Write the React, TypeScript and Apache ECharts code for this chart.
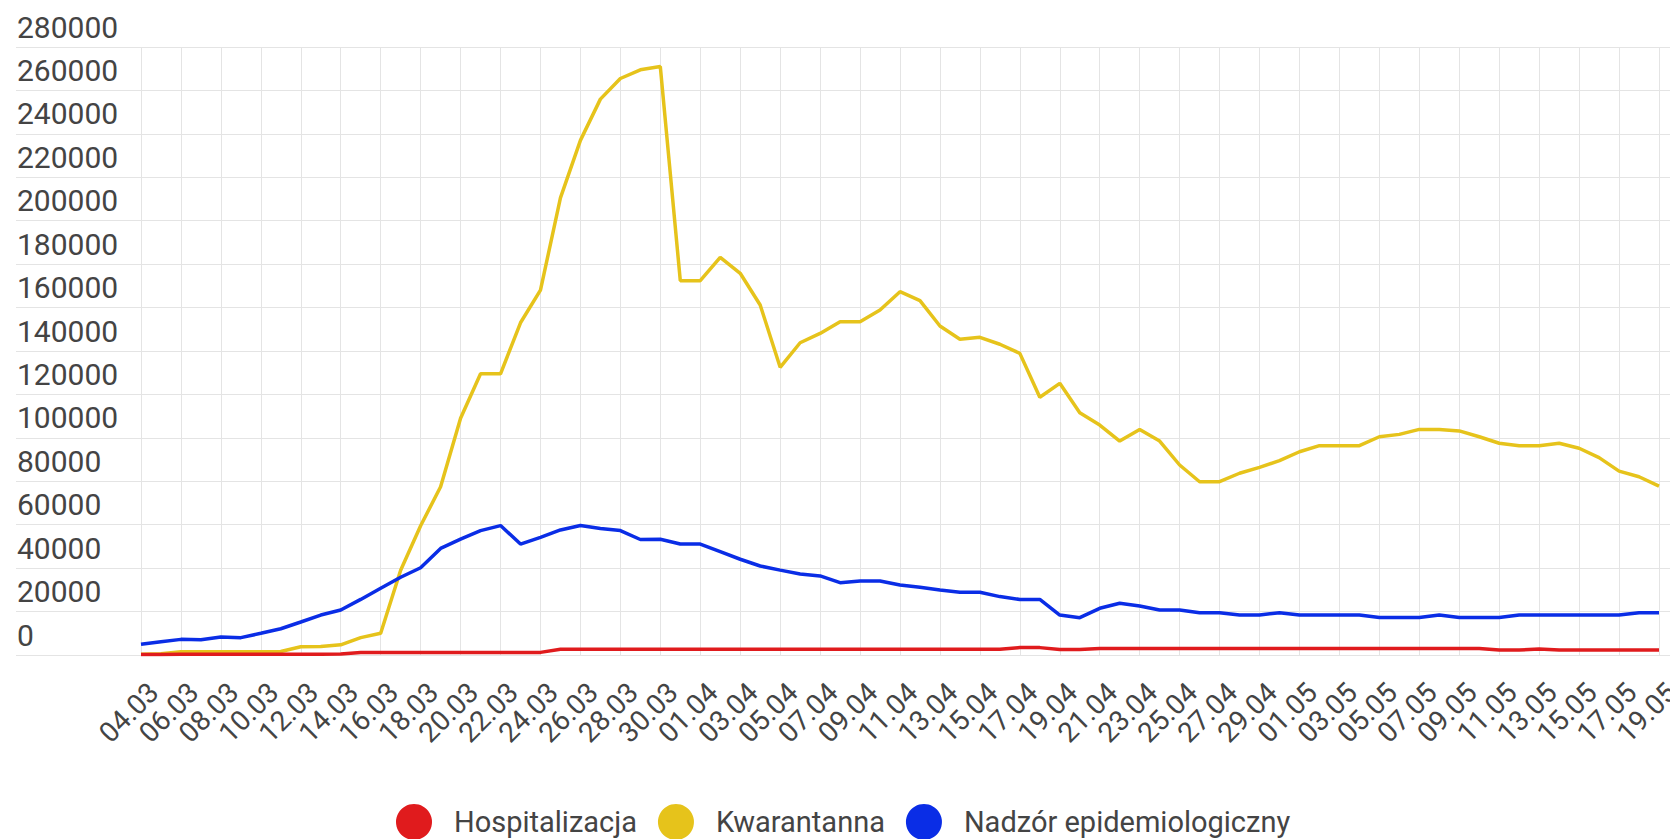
import React, { useEffect, useRef } from "react";
import * as echarts from "echarts";

const dates: string[] = [
  "04.03","05.03","06.03","07.03","08.03","09.03","10.03","11.03","12.03","13.03",
  "14.03","15.03","16.03","17.03","18.03","19.03","20.03","21.03","22.03","23.03",
  "24.03","25.03","26.03","27.03","28.03","29.03","30.03","31.03","01.04","02.04",
  "03.04","04.04","05.04","06.04","07.04","08.04","09.04","10.04","11.04","12.04",
  "13.04","14.04","15.04","16.04","17.04","18.04","19.04","20.04","21.04","22.04",
  "23.04","24.04","25.04","26.04","27.04","28.04","29.04","30.04","01.05","02.05",
  "03.05","04.05","05.05","06.05","07.05","08.05","09.05","10.05","11.05","12.05",
  "13.05","14.05","15.05","16.05","17.05","18.05","19.05",
];

const hospitalizacja: number[] = [
  200, 200, 300, 300, 300, 300, 300, 300, 400, 400, 500,
  1200, 1200, 1200, 1200, 1200, 1200, 1200, 1200, 1200, 1200,
  2600, 2600, 2600, 2600, 2600, 2600, 2600, 2600, 2600, 2600,
  2600, 2600, 2600, 2600, 2600, 2600, 2600, 2600, 2600, 2600,
  2600, 2600, 2600, 3400, 3400, 2500, 2500,
  3000, 3000, 3000, 3000, 3000, 3000, 3000, 3000, 3000, 3000,
  3000, 3000, 3000, 3000, 3000, 3000, 3000, 3000, 3000, 3000,
  2300, 2300, 2800, 2300, 2300, 2300, 2300, 2300, 2300,
];

const kwarantanna: number[] = [
  300, 600, 1500, 1500, 1500, 1500, 1500, 1600, 3800, 3900,
  4700, 8000, 10000, 39000, 59500, 77500, 109000, 129500, 129500, 153000,
  168000, 210500, 237000, 256000, 265500, 269500, 271000, 172400, 172400, 183100,
  175800, 161200, 132500, 143800, 148100, 153500, 153500, 158900, 167300, 163200,
  151500, 145400, 146300, 143100, 138900, 118700, 125100, 111600, 105900, 98500,
  103900, 98500, 87500, 79800, 79800, 83700, 86400, 89500, 93600, 96400,
  96400, 96400, 100500, 101600, 103900, 103900, 103200, 100500, 97500, 96400,
  96400, 97500, 95200, 90900, 84700, 82100, 77800,
];

const nadzor: number[] = [
  4900, 6100, 7200, 7000, 8300, 8000, 10000, 12100, 15200, 18400,
  20700, 25600, 30700, 35800, 40200, 49100, 53400, 57300, 59600, 51100,
  54200, 57600, 59600, 58300, 57300, 53200, 53300, 51100, 51100, 47600,
  44100, 41000, 39100, 37300, 36400, 33300, 34100, 34100, 32200, 31200,
  29900, 28900, 28900, 26900, 25600, 25600, 18400, 17200, 21500, 23800,
  22600, 20700, 20700, 19500, 19500, 18400, 18400, 19500, 18400, 18400,
  18400, 18400, 17300, 17300, 17300, 18400, 17300, 17300, 17300, 18400,
  18400, 18400, 18400, 18400, 18400, 19500, 19500,
];

const seriesNames = ["Hospitalizacja", "Kwarantanna", "Nadzór epidemiologiczny"];
const seriesColors = ["#e01b1d", "#e6c31b", "#0a2de6"];

const Y_MIN = 0;
const Y_MAX = 280000;
const Y_STEP = 20000;

export default function App() {
  const ref = useRef<HTMLDivElement>(null);

  useEffect(() => {
    if (!ref.current) return;
    const chart = echarts.init(ref.current, undefined, { renderer: "svg" });
    const font = "Roboto";
    const textColor = "#444444";
    const gridColor = "#e4e4e4";
    const top = 47;
    const bottom = 839 - 655;

    chart.setOption({
      animation: false,
      backgroundColor: "#ffffff",
      textStyle: { fontFamily: font },
      grid: [
        { left: 16, right: 0, top, bottom, containLabel: false, outerBoundsMode: "none" },
        { left: 141, right: 11, top, bottom, containLabel: false, outerBoundsMode: "none" },
      ],
      xAxis: [
        { type: "value", gridIndex: 0, show: false, min: 0, max: 1 },
        {
          type: "category",
          gridIndex: 1,
          data: dates,
          boundaryGap: false,
          axisLine: { show: false },
          axisTick: { show: false },
          splitLine: { show: true, interval: 1, lineStyle: { color: gridColor, width: 1 } },
          axisLabel: {
            interval: 1,
            rotate: 45,
            margin: 20,
            verticalAlign: "top",
            padding: [4, 0, 0, 0],
            fontSize: 28,
            fontFamily: font,
            color: textColor,
          },
        },
      ],
      yAxis: [
        {
          type: "value",
          gridIndex: 0,
          min: Y_MIN,
          max: Y_MAX,
          interval: Y_STEP,
          axisLine: { show: false },
          axisTick: { show: false },
          splitLine: { show: true, lineStyle: { color: gridColor, width: 1 } },
          axisLabel: {
            inside: true,
            align: "left",
            verticalAlign: "bottom",
            lineHeight: 40,
            margin: 1,
            fontSize: 30,
            fontFamily: font,
            color: textColor,
            formatter: (v: number) => String(v),
          },
        },
        {
          type: "value",
          gridIndex: 1,
          min: Y_MIN,
          max: Y_MAX,
          interval: Y_STEP,
          show: false,
          splitLine: { show: false },
        },
      ],
      legend: {
        data: seriesNames,
        left: 396,
        top: 804,
        padding: 0,
        icon: "circle",
        itemWidth: 36,
        itemHeight: 36,
        itemGap: 21,
        textStyle: {
          fontSize: 29,
          lineHeight: 30,
          fontFamily: font,
          color: textColor,
          padding: [0, 0, 0, 17],
        },
      },
      series: [
        { name: seriesNames[0], data: hospitalizacja },
        { name: seriesNames[1], data: kwarantanna },
        { name: seriesNames[2], data: nadzor },
      ].map((s, k) => ({
        type: "line",
        name: s.name,
        data: s.data,
        xAxisIndex: 1,
        yAxisIndex: 1,
        showSymbol: false,
        symbol: "none",
        color: seriesColors[k],
        lineStyle: { width: 3.5, color: seriesColors[k] },
        z: k === 0 ? 5 : 3,
      })),
    });

    return () => chart.dispose();
  }, []);

  return (
    <div
      ref={ref}
      style={{ position: "fixed", left: 0, top: 0, width: 1670, height: 839 }}
    />
  );
}
